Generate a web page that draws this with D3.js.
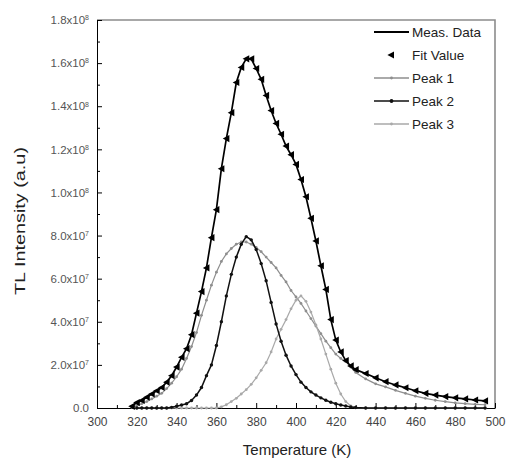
<!DOCTYPE html>
<html>
<head>
<meta charset="utf-8">
<script src="https://cdn.jsdelivr.net/npm/d3@7"></script>
<style>
body { margin: 0; background: #fff; }
svg { font-family: "Liberation Sans", Arial, sans-serif; }
</style>
</head>
<body>
<div id="chart-area"></div>
<script>
// temperatures (K) that the curves were read at
const temps = [
    317.5, 320, 322.5, 325, 327.5, 330, 332.5, 335, 337.5, 340,
    342.5, 345, 347.5, 350, 352.5, 355, 357.5, 360, 362.5, 365,
    367.5, 370, 372.5, 375, 377.5, 380, 382.5, 385, 387.5, 390,
    392.5, 395, 397.5, 400, 402.5, 405, 407.5, 410, 412.5, 415,
    417.5, 420, 422.5, 425, 427.5, 430,
    435, 440, 445, 450, 455, 460, 465, 470, 475, 480,
    485, 490, 495
];

// intensities, in units of 1e7
const measured = [
    0.08, 0.25, 0.35, 0.5, 0.65, 0.8, 0.95, 1.2, 1.5, 1.9,
    2.35, 2.75, 3.4, 4.4, 5.4, 6.5, 7.9, 9.2, 11.1, 12.5,
    13.7, 15.1, 15.8, 16.2, 16.2, 15.75, 15.25, 14.5, 13.8, 13.2,
    12.7, 12.15, 11.75, 11.3, 10.6, 9.8, 8.8, 7.75, 6.6, 5.5,
    4.1, 3.15, 2.6, 2.2, 1.95, 1.78,
    1.6, 1.4, 1.22, 1.07, 0.94, 0.8, 0.68, 0.6, 0.53, 0.47,
    0.42, 0.37, 0.33
];

const fitted = [
    0.08, 0.25, 0.35, 0.5, 0.65, 0.8, 0.95, 1.2, 1.5, 1.9,
    2.35, 2.75, 3.4, 4.4, 5.4, 6.5, 7.9, 9.2, 11.1, 12.5,
    13.7, 15.1, 15.8, 16.2, 16.2, 15.75, 15.25, 14.5, 13.8, 13.2,
    12.7, 12.15, 11.75, 11.3, 10.6, 9.8, 8.8, 7.75, 6.6, 5.5,
    4.1, 3.15, 2.6, 2.2, 1.95, 1.78,
    1.6, 1.4, 1.22, 1.07, 0.94, 0.8, 0.68, 0.6, 0.53, 0.47,
    0.42, 0.37, 0.33
];

const peak1 = [
    0.03, 0.1, 0.2, 0.3, 0.42, 0.55, 0.68, 0.9, 1.15, 1.45,
    1.8, 2.3, 2.85, 3.5, 4.3, 5.0, 5.7, 6.3, 6.8, 7.15,
    7.4, 7.6, 7.7, 7.7, 7.6, 7.45, 7.25, 7.0, 6.75, 6.5,
    6.15, 5.85, 5.45, 5.15, 4.85, 4.5, 4.15, 3.8, 3.45, 3.1,
    2.8, 2.5, 2.3, 2.15, 1.9, 1.65,
    1.35, 1.12, 0.98, 0.82, 0.68, 0.55, 0.45, 0.36, 0.3, 0.24,
    0.2, 0.17, 0.15
];

const peak2 = [
    null, 0, 0, 0, 0, 0, 0, 0, 0.03, 0.08,
    0.14, 0.2, 0.35, 0.6, 0.95, 1.5, 2.0, 2.9, 4.0, 5.2,
    6.2, 7.0, 7.6, 7.95, 7.8, 7.35, 6.7, 5.9, 4.9, 3.9,
    3.1, 2.45, 1.95, 1.55, 1.2, 0.95, 0.75, 0.6, 0.47, 0.36,
    0.27, 0.2, 0.14, 0.09, 0.05, 0.02,
    0, 0, 0, 0, 0, 0, 0, 0, 0, 0,
    0, 0, 0
];

const peak3 = [
    null, 0, 0, 0, 0, 0, 0, 0, 0, 0,
    0, 0, 0, 0, 0, 0, 0, 0, 0.05, 0.15,
    0.3, 0.45, 0.65, 0.85, 1.1, 1.4, 1.75, 2.1, 2.6, 3.2,
    3.65, 4.1, 4.6, 5.0, 5.2, 4.95, 4.45, 3.85, 3.2, 2.5,
    1.8, 1.15, 0.65, 0.3, 0.1, 0.02,
    0, 0, 0, 0, 0, 0, 0, 0, 0, 0,
    0, 0, 0
];

const xTicks = [300, 320, 340, 360, 380, 400, 420, 440, 460, 480, 500];
const yTicks = [0, 2e7, 4e7, 6e7, 8e7, 1e8, 1.2e8, 1.4e8, 1.6e8, 1.8e8];
const legendNames = ["Meas. Data", "Fit Value", "Peak 1", "Peak 2", "Peak 3"];

const margin = {left: 97, right: 13, top: 20, bottom: 54};
const width = 508 - margin.left - margin.right,
    height = 462 - margin.top - margin.bottom;

const svg = d3.select("#chart-area")
    .append("svg")
        .attr("width", 508)
        .attr("height", 462);

const g = svg.append("g")
    .attr("transform", "translate(" + margin.left + "," + margin.top + ")");

// Scales
const x = d3.scaleLinear().domain([300, 500]).range([0, width]);
const y = d3.scaleLinear().domain([0, 1.8e8]).range([height, 0]);

// frame on top / right
g.append("path")
    .attr("d", "M0,0H" + width + "V" + height)
    .attr("fill", "none")
    .attr("stroke", "#8c8c8c")
    .attr("stroke-width", 1.6);

// minor ticks
g.append("g")
    .attr("transform", "translate(0," + height + ")")
    .call(d3.axisBottom(x).tickValues(d3.range(310, 500, 20)).tickSize(-3).tickFormat(""))
    .call(a => a.select(".domain").remove());
g.append("g")
    .call(d3.axisLeft(y).tickValues(d3.range(1e7, 1.8e8, 2e7)).tickSize(-3).tickFormat(""))
    .call(a => a.select(".domain").remove());

// X AXIS
const xAxis = g.append("g")
    .attr("transform", "translate(0," + height + ")")
    .call(d3.axisBottom(x).tickValues(xTicks).tickSizeInner(-5).tickSizeOuter(0).tickPadding(9));
xAxis.selectAll("text")
    .attr("font-size", "12px")
    .attr("fill", "#444");

// Y AXIS
const yAxis = g.append("g")
    .call(d3.axisLeft(y).tickValues(yTicks).tickSizeInner(-5).tickSizeOuter(0).tickPadding(8).tickFormat(""));
yAxis.selectAll(".tick text")
    .attr("font-size", "11.5px")
    .attr("fill", "#555")
    .each(function(d) {
        const t = d3.select(this);
        if (d === 0) { t.text("0.0"); return; }
        const e = Math.floor(Math.log10(d) + 1e-9);
        const m = (d / Math.pow(10, e)).toFixed(1);
        t.append("tspan").text(m + "x10");
        t.append("tspan").attr("font-size", "7px").attr("dy", "-0.55em").text(e);
    });
g.selectAll(".domain").attr("stroke", "#000");

// LABELS
g.append("text")
    .attr("x", width / 2 + 1)
    .attr("y", height + 47)
    .attr("font-size", "15px")
    .attr("text-anchor", "middle")
    .attr("fill", "#222")
    .text("Temperature (K)");

g.append("text")
    .attr("transform", "rotate(-90)")
    .attr("x", -201)
    .attr("y", -72)
    .attr("font-size", "15px")
    .attr("text-anchor", "middle")
    .attr("fill", "#222")
    .attr("textLength", 148)
    .attr("lengthAdjust", "spacingAndGlyphs")
    .text("TL Intensity (a.u)");

// curves
const series = [
    {vals: peak1, color: "#8e8e8e", w: 1.2, r: 1.4},
    {vals: peak3, color: "#a9a9a9", w: 1.2, r: 1.4},
    {vals: peak2, color: "#111", w: 1.5, r: 1.7}
];
const line = d3.line()
    .defined(d => d[1] != null)
    .x(d => x(d[0]))
    .y(d => y(d[1] * 1e7));

series.forEach(function(s) {
    const pts = temps.map((t, i) => [t, s.vals[i]]).filter(d => d[1] != null);
    g.append("path")
        .datum(pts)
        .attr("fill", "none")
        .attr("stroke", s.color)
        .attr("stroke-width", s.w)
        .attr("d", line);
    g.selectAll(null)
        .data(pts)
        .enter().append("circle")
            .attr("cx", d => x(d[0]))
            .attr("cy", d => y(d[1] * 1e7))
            .attr("r", s.r)
            .attr("fill", s.color);
});

g.append("path")
    .datum(temps.map((t, i) => [t, measured[i]]))
    .attr("fill", "none")
    .attr("stroke", "#000")
    .attr("stroke-width", 1.7)
    .attr("d", line);

const tri = "M-3.6,0L3,-3.6L3,3.6Z";
g.selectAll(".fit")
    .data(temps.map((t, i) => [t, fitted[i]]))
    .enter().append("path")
        .attr("class", "fit")
        .attr("d", tri)
        .attr("fill", "#000")
        .attr("transform", d => "translate(" + x(d[0]) + "," + y(d[1] * 1e7) + ")");

// legend
const legend = svg.append("g");
legendNames.forEach(function(name, i) {
    const ly = 32 + i * 23;
    const row = legend.append("g").attr("transform", "translate(0," + ly + ")");
    if (i === 1) {
        row.append("path").attr("d", tri).attr("transform", "translate(391,0)").attr("fill", "#000");
    } else {
        const col = i === 0 ? "#000" : (i === 3 ? "#111" : (i === 2 ? "#8e8e8e" : "#a9a9a9"));
        row.append("line")
            .attr("x1", 374).attr("x2", 409)
            .attr("stroke", col)
            .attr("stroke-width", i === 0 ? 1.8 : 1.3);
        if (i > 1) {
            row.append("circle").attr("cx", 391.5).attr("r", i === 3 ? 1.9 : 1.4).attr("fill", col);
        }
    }
    row.append("text")
        .attr("x", 412)
        .attr("dy", "0.35em")
        .attr("font-size", "13.5px")
        .attr("fill", "#222")
        .text(name);
});
</script>
</body>
</html>
